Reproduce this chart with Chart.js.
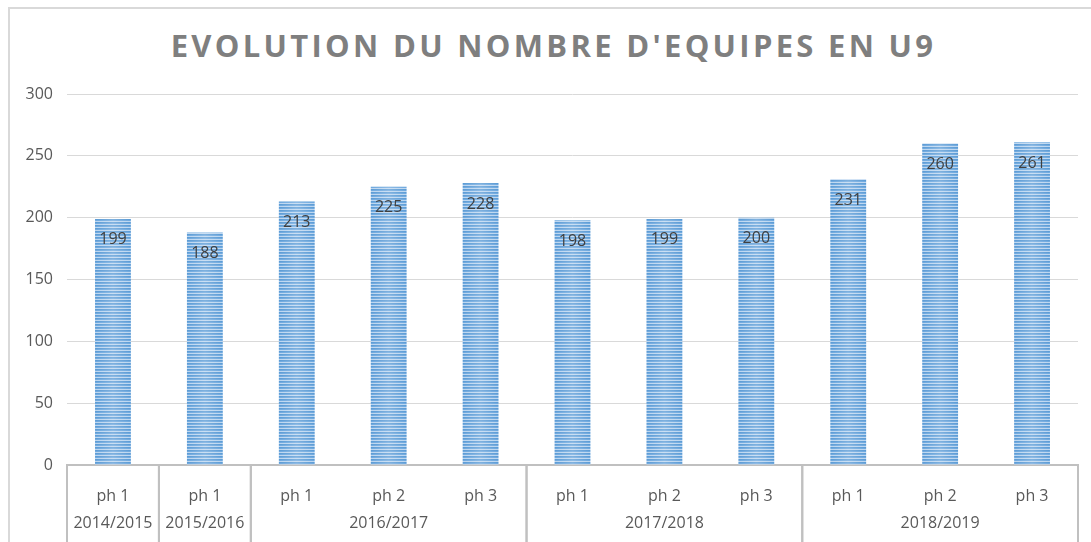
<!DOCTYPE html>
<html lang="fr">
<head>
  <meta charset="UTF-8" />
  <title>Evolution du nombre d'équipes en U9</title>
  <script src="https://cdn.jsdelivr.net/npm/chart.js"></script>
  <style>
    body {
      margin: 0;
      background: #ffffff;
    }
    #wrap {
      position: relative;
      width: 1091px;
      height: 542px;
      overflow: hidden;
    }
    #frame {
      position: absolute;
      left: 8px;
      top: 7px;
      width: 1200px;
      height: 600px;
      border-left: 2px solid #d9d9d9;
      border-top: 2px solid #d9d9d9;
    }
    #title {
      position: absolute;
      left: 8px;
      top: 27px;
      width: 1091px;
      text-align: center;
      font-family: "Open Sans", sans-serif;
      font-weight: bold;
      font-size: 31px;
      line-height: 36px;
      letter-spacing: 3.3px;
      color: #7f7f7f;
    }
    canvas {
      position: absolute;
      left: 0;
      top: 0;
    }
  </style>
</head>
<body>
  <div id="wrap">
    <div id="frame"></div>
    <div id="title">EVOLUTION DU NOMBRE D'EQUIPES EN U9</div>
    <canvas id="teamChart" width="1091" height="542"></canvas>
  </div>

  <script>
    // saisons et phases
    const seasons = ['2014/2015', '2015/2016', '2016/2017', '2017/2018', '2018/2019'];
    const phases = ['ph 1', 'ph 1', 'ph 1', 'ph 2', 'ph 3', 'ph 1', 'ph 2', 'ph 3', 'ph 1', 'ph 2', 'ph 3'];
    const seasonOf = [0, 1, 2, 2, 2, 3, 3, 3, 4, 4, 4];
    const teams = [199, 188, 213, 225, 228, 198, 199, 200, 231, 260, 261];
    const yTicks = [0, 50, 100, 150, 200, 250, 300];

    const FONT = '"Open Sans", sans-serif';

    // motif rayé horizontal des barres
    function makeStripes(ctx) {
      const c = document.createElement('canvas');
      c.width = 1;
      c.height = 3;
      const p = c.getContext('2d');
      const rows = ['#5b9bd5', '#6ea8de', '#bcd6f0'];
      rows.forEach((col, i) => {
        p.fillStyle = col;
        p.fillRect(0, i, 1, 1);
      });
      return ctx.createPattern(c, 'repeat');
    }

    const barShine = {
      id: 'barShine',
      afterDatasetsDraw(chart) {
        const ctx = chart.ctx;
        const meta = chart.getDatasetMeta(0);
        ctx.save();
        meta.data.forEach((bar, i) => {
          const left = bar.x - bar.width / 2;
          const g = ctx.createLinearGradient(left, 0, left + bar.width, 0);
          g.addColorStop(0, 'rgba(255,255,255,0)');
          g.addColorStop(0.5, 'rgba(255,255,255,0.22)');
          g.addColorStop(1, 'rgba(255,255,255,0)');
          ctx.fillStyle = g;
          ctx.fillRect(left, bar.y, bar.width, bar.base - bar.y);

          // étiquette de valeur
          ctx.fillStyle = '#404040';
          ctx.font = '16px ' + FONT;
          ctx.textAlign = 'center';
          ctx.textBaseline = 'middle';
          ctx.fillText(teams[i], bar.x, bar.y + 21);
        });
        ctx.restore();
      }
    };

    const seasonAxis = {
      id: 'seasonAxis',
      afterDraw(chart) {
        const ctx = chart.ctx;
        const x = chart.scales.x;
        const half = (x.getPixelForValue(1) - x.getPixelForValue(0)) / 2;
        const bottom = chart.chartArea.bottom;
        ctx.save();
        ctx.strokeStyle = '#c0c0c0';
        ctx.lineWidth = 2;
        ctx.fillStyle = '#595959';
        ctx.font = '16px ' + FONT;
        ctx.textAlign = 'center';
        ctx.textBaseline = 'middle';
        seasons.forEach((s, k) => {
          const idx = seasonOf.map((v, i) => v === k ? i : -1).filter(i => i >= 0);
          const a = x.getPixelForValue(idx[0]) - half;
          const b = x.getPixelForValue(idx[idx.length - 1]) + half;
          [a, b].forEach(px => {
            ctx.beginPath();
            ctx.moveTo(px, bottom);
            ctx.lineTo(px, 542);
            ctx.stroke();
          });
          ctx.fillText(s, (a + b) / 2, 523);
        });
        ctx.restore();
      }
    };

    const ctx = document.getElementById('teamChart').getContext('2d');
    new Chart(ctx, {
      type: 'bar',
      data: {
        labels: phases,
        datasets: [{
          data: teams,
          backgroundColor: makeStripes(ctx),
          borderWidth: 0,
          categoryPercentage: 1,
          barPercentage: 0.39
        }]
      },
      options: {
        responsive: false,
        animation: false,
        layout: { padding: { top: 94, right: 13, left: 0, bottom: 0 } },
        plugins: {
          legend: { display: false },
          tooltip: { enabled: false }
        },
        scales: {
          y: {
            min: 0,
            max: 300,
            afterFit(scale) { scale.width = 67; },
            afterBuildTicks(scale) { scale.ticks = yTicks.map(v => ({ value: v })); },
            border: { display: false },
            grid: { color: '#d9d9d9', lineWidth: 1, drawTicks: false },
            ticks: { color: '#595959', font: { family: FONT, size: 16 }, padding: 14 }
          },
          x: {
            afterFit(scale) { scale.height = 77; },
            border: { display: true, color: '#c0c0c0', width: 2 },
            grid: { display: false },
            ticks: { color: '#595959', font: { family: FONT, size: 16 }, padding: 14, maxRotation: 0 }
          }
        }
      },
      plugins: [barShine, seasonAxis]
    });
  </script>
</body>
</html>
